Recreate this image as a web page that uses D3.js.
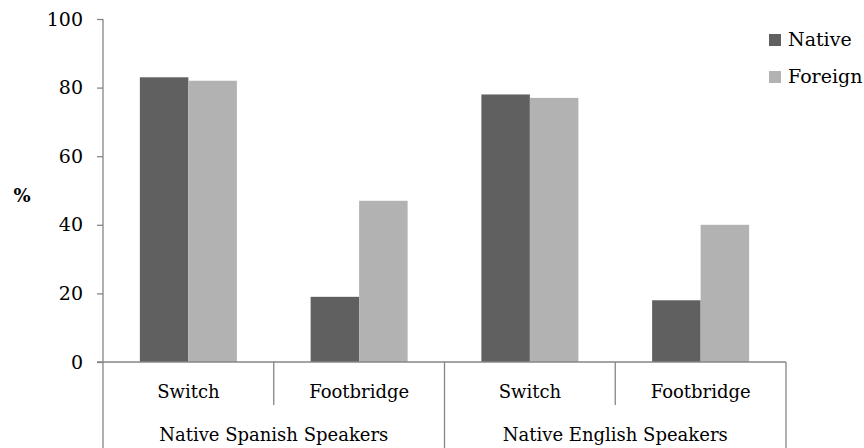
<!DOCTYPE html>
<html>
<head>
<meta charset="utf-8">
<title>native-foreign</title>
<script src="https://cdn.jsdelivr.net/npm/d3@7"></script>
<style>
  body { margin: 0; background: #fff; }
  text { font-family: "DejaVu Serif", "Liberation Serif", serif; fill: #000; }
</style>
</head>
<body>
<svg id="chart" width="864" height="448"></svg>
<script>
// data
var groups = ["Native Spanish Speakers", "Native English Speakers"];
var dilemmas = ["Switch", "Footbridge"];
var series = ["Native", "Foreign"];
var nativeVals = [83, 19, 78, 18];
var foreignVals = [82, 47, 77, 40];
var yTicks = [0, 20, 40, 60, 80, 100];
var colors = ["#606060", "#b2b2b2"];

var svg = d3.select("#chart");
var mLeft = 103, mRight = 786, mTop = 19, mBottom = 362;

// one band per group/dilemma pair
var cats = [];
groups.forEach(function(g, gi){
  dilemmas.forEach(function(d, di){ cats.push({group: gi, label: d, i: gi*2+di}); });
});

var x = d3.scaleBand().domain(cats.map(function(c){ return c.i; }))
  .range([mLeft, mRight]).paddingInner(0).paddingOuter(0);
// two bars of ~48.5px centred in each 170.75px band
var inner = d3.scaleBand().domain(series).range([0, x.bandwidth()]).paddingInner(0).paddingOuter(0.76);
var y = d3.scaleLinear().domain([0, 100]).range([mBottom, mTop]);

var axisColor = "#868686";

// bars
var rows = cats.map(function(c){
  return {i: c.i, vals: [nativeVals[c.i], foreignVals[c.i]]};
});
var g = svg.append("g");
rows.forEach(function(r){
  series.forEach(function(s, si){
    g.append("rect")
      .attr("x", x(r.i) + inner(s))
      .attr("y", y(r.vals[si]))
      .attr("width", inner.bandwidth())
      .attr("height", y(0) - y(r.vals[si]))
      .attr("fill", colors[si]);
  });
});

// y axis
var yAxis = d3.axisLeft(y).tickValues(yTicks).tickSize(6).tickPadding(14);
var ya = svg.append("g").attr("transform", "translate(" + mLeft + ",0)").call(yAxis);
ya.select(".domain").attr("stroke", axisColor).attr("stroke-width", 1.3).attr("d", "M0," + mTop + "V" + mBottom);
ya.selectAll(".tick line").attr("stroke", axisColor).attr("stroke-width", 1.3);
ya.selectAll(".tick text").attr("font-family", "DejaVu Serif").attr("font-size", 19).attr("fill", "#000");

// x axis baseline
svg.append("line").attr("x1", mLeft - 6).attr("x2", mRight).attr("y1", mBottom).attr("y2", mBottom)
  .attr("stroke", axisColor).attr("stroke-width", 1.3);

// category dividers
d3.range(cats.length + 1).forEach(function(k){
  var xp = k < cats.length ? x(k) : mRight;
  var longLine = k % 2 === 0;
  svg.append("line").attr("x1", xp).attr("x2", xp).attr("y1", mBottom)
    .attr("y2", longLine ? 448 : 405)
    .attr("stroke", axisColor).attr("stroke-width", 1.3);
});

// category labels
svg.selectAll(".cat").data(cats).enter().append("text")
  .attr("x", function(c){ return x(c.i) + x.bandwidth() / 2; })
  .attr("y", 398)
  .attr("text-anchor", "middle")
  .attr("font-size", 18)
  .text(function(c){ return c.label; });

// group labels
svg.selectAll(".grp").data(groups).enter().append("text")
  .attr("x", function(d, i){ return x(i*2) + x.bandwidth(); })
  .attr("y", 441)
  .attr("text-anchor", "middle")
  .attr("font-size", 18)
  .text(function(d){ return d; });

// y title
svg.append("text").attr("x", 22).attr("y", 202).attr("font-size", 18)
  .attr("font-weight", "bold").attr("text-anchor", "middle").text("%");

// legend
var leg = svg.selectAll(".leg").data(series).enter().append("g")
  .attr("transform", function(d, i){ return "translate(769," + (34 + i*37) + ")"; });
leg.append("rect").attr("width", 12).attr("height", 12).attr("fill", function(d, i){ return colors[i]; });
leg.append("text").attr("x", 19).attr("y", 12).attr("font-size", 19).text(function(d){ return d; });
</script>
</body>
</html>
